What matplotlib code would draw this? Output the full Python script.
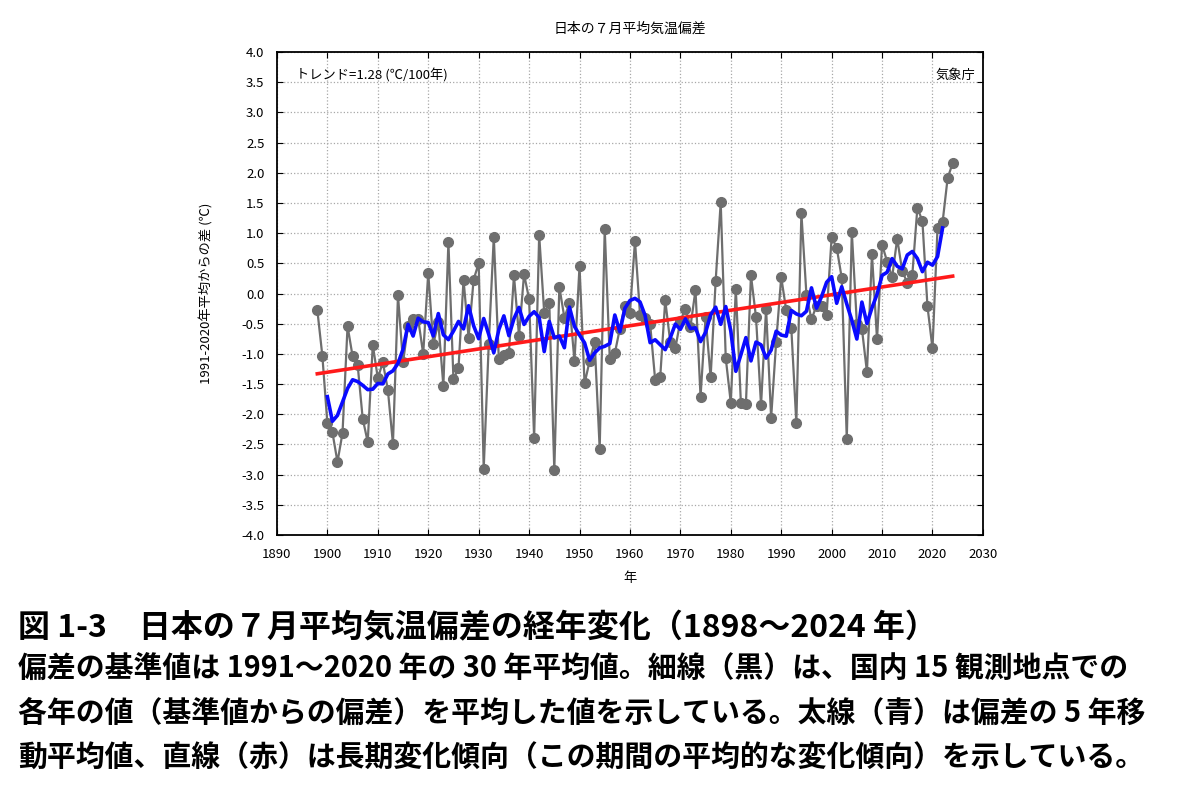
import numpy as np
import pandas as pd
import matplotlib
matplotlib.use("Agg")
import matplotlib.pyplot as plt
from matplotlib.ticker import MultipleLocator, FormatStrFormatter

plt.rcParams['font.family'] = ['Noto Sans CJK JP', 'DejaVu Sans']

years = np.arange(1898, 2025)
anom = [
    -0.27, -1.03,                                                        # 1898-1899
    -2.15, -2.30, -2.79, -2.31, -0.54, -1.04, -1.18, -2.07, -2.46, -0.85,  # 1900s
    -1.40, -1.14, -1.60, -2.49, -0.03, -1.14, -0.53, -0.43, -0.42, -1.00,  # 1910s
    0.34, -0.84, -0.48, -1.53, 0.85, -1.42, -1.24, 0.23, -0.73, 0.23,      # 1920s
    0.50, -2.90, -0.84, 0.94, -1.09, -1.02, -0.98, 0.30, -0.70, 0.32,      # 1930s
    -0.09, -2.39, 0.97, -0.32, -0.15, -2.92, 0.11, -0.40, -0.16, -1.12,    # 1940s
    0.45, -1.49, -1.12, -0.80, -2.57, 1.07, -1.08, -0.99, -0.58, -0.20,    # 1950s
    -0.32, 0.87, -0.35, -0.40, -0.50, -1.43, -1.39, -0.11, -0.81, -0.91,   # 1960s
    -0.45, -0.25, -0.55, 0.06, -1.71, -0.39, -1.39, 0.21, 1.51, -1.07,     # 1970s
    -1.81, 0.08, -1.81, -1.83, 0.30, -0.39, -1.85, -0.25, -2.06, -0.80,    # 1980s
    0.27, -0.28, -0.57, -2.15, 1.33, -0.02, -0.43, -0.20, -0.21, -0.35,    # 1990s
    0.93, 0.76, 0.26, -2.41, 1.02, -0.50, -0.58, -1.30, 0.65, -0.76,       # 2000s
    0.81, 0.53, 0.27, 0.91, 0.37, 0.18, 0.31, 1.42, 1.20, -0.21,           # 2010s
    -0.91, 1.09, 1.18, 1.91, 2.16,                                         # 2020s
]
anom = np.array(anom)

run5 = pd.Series(anom, index=years).rolling(5, center=True).mean()
coef = np.polyfit(years, anom, 1)
trend = np.polyval(coef, years)

title = "日本の７月平均気温偏差"
ylabel = "1991-2020年平均からの差 (℃)"
xlabel = "年"
trend_txt = "トレンド=1.28 (℃/100年)"
source_txt = "気象庁"
caption = [
    "図 1-3　日本の７月平均気温偏差の経年変化（1898～2024 年）",
    "偏差の基準値は 1991～2020 年の 30 年平均値。細線（黒）は、国内 15 観測地点での",
    "各年の値（基準値からの偏差）を平均した値を示している。太線（青）は偏差の 5 年移",
    "動平均値、直線（赤）は長期変化傾向（この期間の平均的な変化傾向）を示している。",
]

fig = plt.figure(figsize=(12, 7.95), dpi=100)
ax = fig.add_axes([0.2308, 0.3270, 0.5883, 0.6076])

ax.plot(years, anom, color='#6e6e6e', lw=1.6, marker='o', ms=7,
        markeredgecolor='#6e6e6e', zorder=2)
ax.plot(years, trend, color='#ff1a1a', lw=2.6, zorder=3)
ax.plot(years, run5.values, color='#0a0aff', lw=2.6, zorder=4)

ax.set_xlim(1890, 2030)
ax.set_ylim(-4, 4)
ax.xaxis.set_major_locator(MultipleLocator(10))
ax.yaxis.set_major_locator(MultipleLocator(0.5))
ax.yaxis.set_major_formatter(FormatStrFormatter('%.1f'))
ax.tick_params(direction='in', length=4, labelsize=9.5, top=True, right=True)
ax.tick_params(axis='x', pad=9)
ax.tick_params(axis='y', pad=9)
ax.grid(True, color='#a8a8a8', linestyle=':', lw=0.9)
for s in ax.spines.values():
    s.set_linewidth(1.3)

ax.set_title(title, fontsize=10, pad=14)
ax.set_ylabel(ylabel, fontsize=9.5, labelpad=20)
ax.set_xlabel(xlabel, fontsize=9.5, labelpad=8)
ax.text(0.027, 0.952, trend_txt, transform=ax.transAxes, fontsize=9.5,
        ha='left', va='center')
ax.text(0.989, 0.952, source_txt, transform=ax.transAxes, fontsize=9.5,
        ha='right', va='center')

ys = [0.210, 0.158, 0.103, 0.047]
sizes = [23, 20.8, 20.8, 20.8]
for t, y, s in zip(caption, ys, sizes):
    fig.text(0.015, y, t, fontsize=s, fontweight='bold', ha='left', va='center')

fig.savefig("out.png", dpi=100)
